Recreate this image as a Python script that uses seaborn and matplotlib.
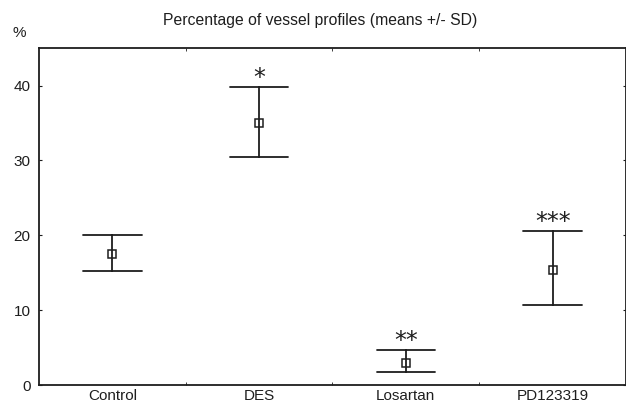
import numpy as np
import pandas as pd
import matplotlib
matplotlib.use("Agg")
import matplotlib.pyplot as plt
import seaborn as sns

groups = ["Control", "DES", "Losartan", "PD123319"]
means = [17.5, 35.0, 3.0, 15.4]
lower = [15.2, 30.4, 1.7, 10.7]
upper = [20.1, 39.8, 4.7, 20.6]
stars = ["", "*", "**", "***"]
yticks = [0, 10, 20, 30, 40]

sns.set_style("ticks")
plt.rcParams["font.family"] = ["Liberation Sans", "DejaVu Sans"]

rows = []
for g, lo, m, up in zip(groups, lower, means, upper):
    for v in (lo, m, up):
        rows.append({"group": g, "value": v})
df = pd.DataFrame(rows)

ink = "#1e1e1e"
fig = plt.figure(figsize=(6.26, 4.04), dpi=100)
ax = fig.add_axes([0.0623, 0.047, 0.9377, 0.834])

sns.pointplot(data=df, x="group", y="value", order=groups,
              estimator=np.median, errorbar=lambda x: (x.min(), x.max()),
              capsize=0.4, color=ink, markers="s", linestyles="none",
              markersize=5.5, markerfacecolor="white", markeredgecolor=ink,
              markeredgewidth=1.1, err_kws={"linewidth": 1.3}, ax=ax)

for i, (s, up) in enumerate(zip(stars, upper)):
    if s:
        ax.text(i, up + 0.3, s, ha="center", va="baseline", fontsize=17,
                color=ink, family="DejaVu Sans")

ax.set_xlim(-0.5, 3.5)
ax.set_ylim(0, 45)
ax.set_yticks(yticks)
ax.set_yticklabels([str(t) for t in yticks])
ax.set_xticks(range(len(groups)))
ax.set_xticklabels(groups)
ax.set_xticks([0.5, 1.5, 2.5], minor=True)
ax.set_xlabel("")
ax.set_ylabel("")
for sp in ax.spines.values():
    sp.set_visible(True)
    sp.set_linewidth(1.3)
    sp.set_color(ink)
ax.tick_params(axis="y", which="both", direction="in", length=2, right=True,
               labelsize=11, pad=6, colors=ink)
ax.tick_params(axis="x", which="major", length=0, labelsize=11, pad=3, colors=ink)
ax.tick_params(axis="x", which="minor", direction="in", length=2, top=True, colors=ink)

fig.text(0.511, 0.95, "Percentage of vessel profiles (means +/- SD)",
         ha="center", va="center", fontsize=11.3, color=ink)
fig.text(0.031, 0.918, "%", ha="center", va="center", fontsize=11, color=ink)

fig.savefig("out.png", dpi=100)
